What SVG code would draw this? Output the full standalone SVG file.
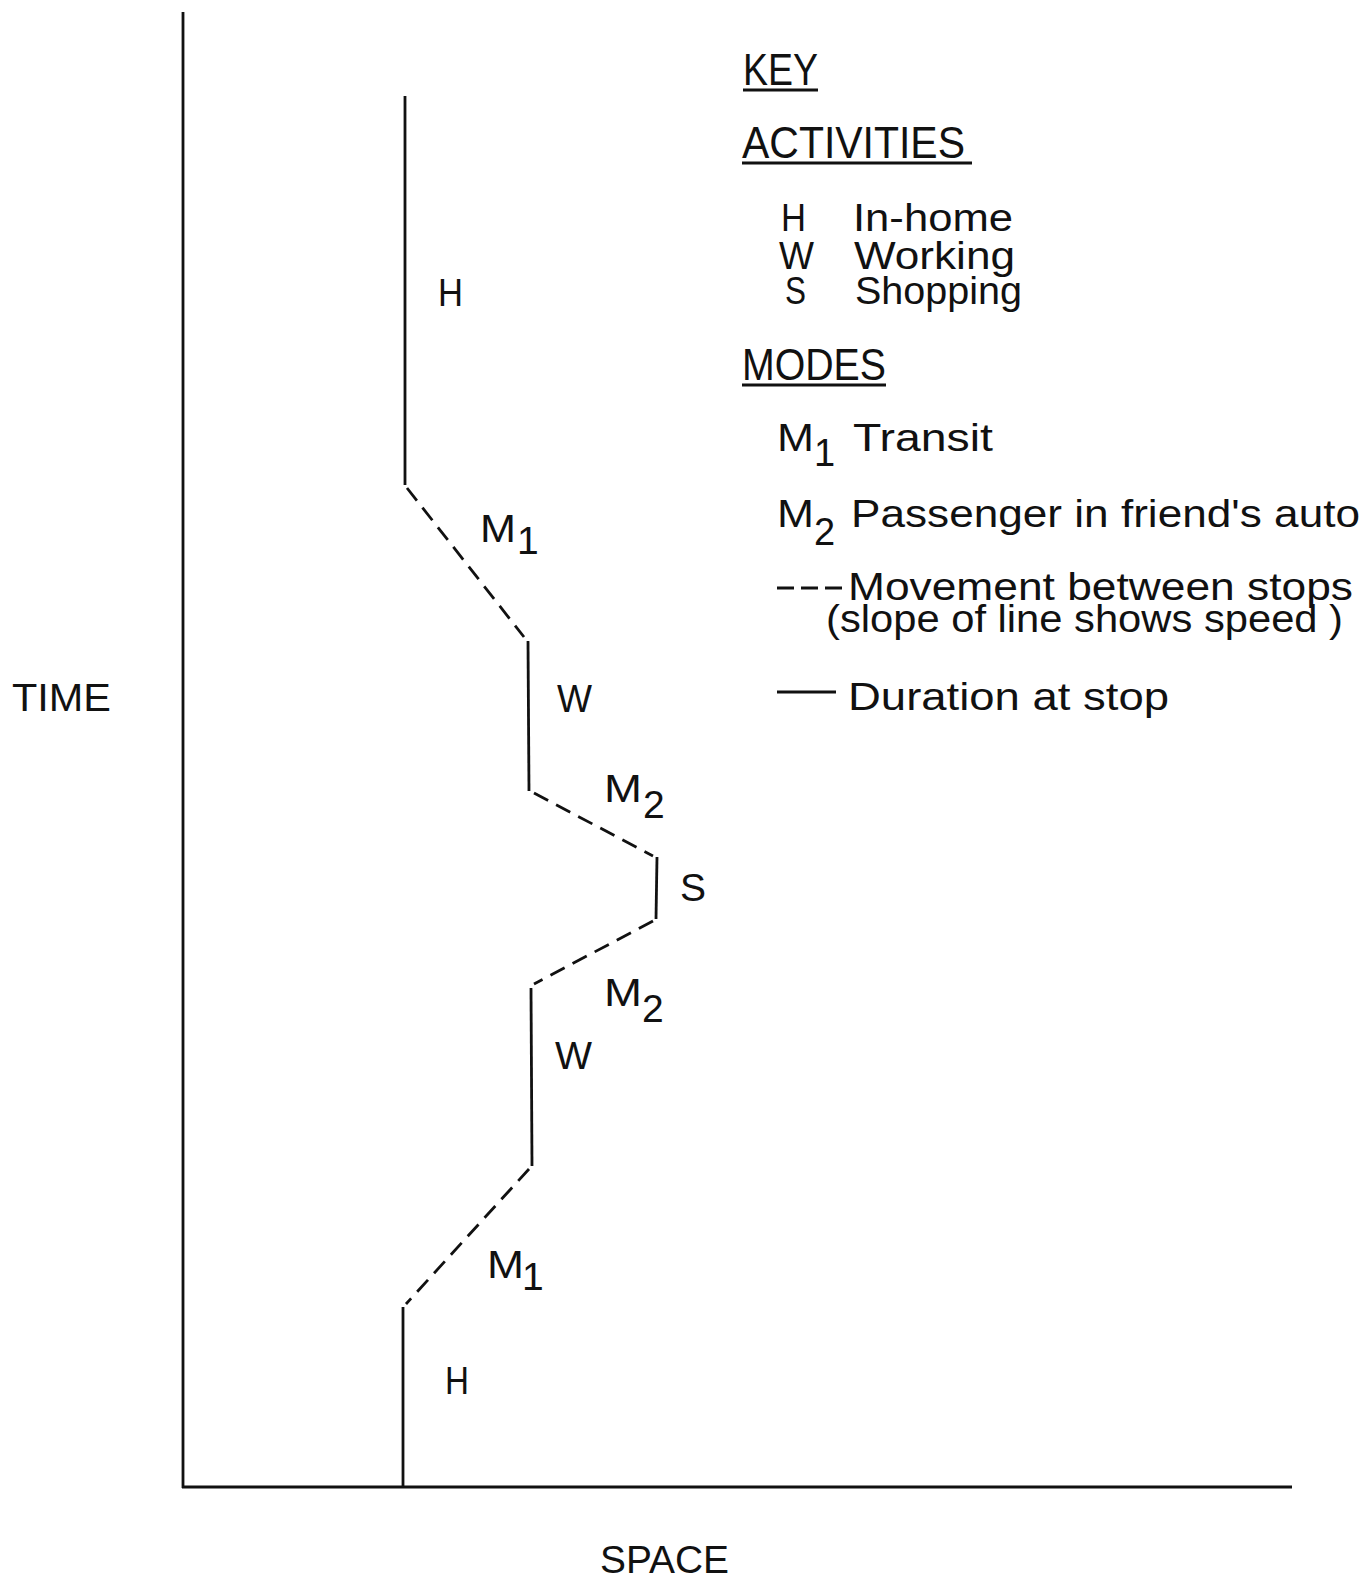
<svg xmlns="http://www.w3.org/2000/svg" width="1366" height="1580" viewBox="0 0 1366 1580">
<style>
text{font-family:"Liberation Sans","DejaVu Sans",sans-serif;fill:#111;}
.lbl{font-size:39px;}
.key{font-size:38px;}
.hd{font-size:44px;}
.ax{stroke:#111;stroke-width:2.8;fill:none;}
.stay{stroke:#111;stroke-width:2.8;fill:none;}
.move{stroke:#111;stroke-width:2.8;fill:none;stroke-dasharray:16 9;}
.ul{stroke:#111;stroke-width:3.2;}
</style>
<rect width="1366" height="1580" fill="#fff"/>
<g id="axes">
<line class="ax" x1="183" y1="12" x2="183" y2="1488"/>
<line class="ax" x1="182" y1="1487" x2="1292" y2="1487"/>
<text id="time-label" class="lbl" x="12" y="711" textLength="99" lengthAdjust="spacingAndGlyphs">TIME</text>
<text id="space-label" class="lbl" x="600" y="1573" textLength="129" lengthAdjust="spacingAndGlyphs">SPACE</text>
</g>
<g id="connectors">
<line class="stay" x1="405" y1="96" x2="405" y2="485"/>
<line class="move" x1="407" y1="488" x2="524" y2="637"/>
<line class="stay" x1="528" y1="641" x2="529" y2="791"/>
<line class="move" x1="534" y1="793" x2="653" y2="856"/>
<line class="stay" x1="657" y1="857" x2="656" y2="919"/>
<line class="move" x1="653" y1="921" x2="534" y2="984"/>
<line class="stay" x1="531" y1="988" x2="532" y2="1166"/>
<line class="move" x1="529" y1="1169" x2="406" y2="1304"/>
<line class="stay" x1="403" y1="1307" x2="403" y2="1487"/>
</g>
<g id="node-h-top"><text class="lbl" x="438" y="306" textLength="25" lengthAdjust="spacingAndGlyphs">H</text></g>
<g id="node-m1-top"><text class="lbl" x="480" y="542" textLength="36" lengthAdjust="spacingAndGlyphs">M</text><text class="lbl" x="517" y="554">1</text></g>
<g id="node-w-top"><text class="lbl" x="557" y="712" textLength="35" lengthAdjust="spacingAndGlyphs">W</text></g>
<g id="node-m2-top"><text class="lbl" x="604" y="802" textLength="38" lengthAdjust="spacingAndGlyphs">M</text><text class="lbl" x="643" y="818">2</text></g>
<g id="node-s"><text class="lbl" x="680" y="901">S</text></g>
<g id="node-m2-bottom"><text class="lbl" x="604" y="1006" textLength="38" lengthAdjust="spacingAndGlyphs">M</text><text class="lbl" x="642" y="1022">2</text></g>
<g id="node-w-bottom"><text class="lbl" x="555" y="1069" textLength="37" lengthAdjust="spacingAndGlyphs">W</text></g>
<g id="node-m1-bottom"><text class="lbl" x="487" y="1278" textLength="37" lengthAdjust="spacingAndGlyphs">M</text><text class="lbl" x="522" y="1290">1</text></g>
<g id="node-h-bottom"><text class="lbl" x="445" y="1394" textLength="24" lengthAdjust="spacingAndGlyphs">H</text></g>
<g id="key">
<text class="hd" x="743" y="85" textLength="75" lengthAdjust="spacingAndGlyphs">KEY</text>
<line class="ul" x1="743" y1="90" x2="818" y2="90"/>
<text class="hd" x="742" y="158" textLength="223" lengthAdjust="spacingAndGlyphs">ACTIVITIES</text>
<line class="ul" x1="742" y1="163" x2="972" y2="163"/>
<text class="key" x="781" y="231" textLength="25" lengthAdjust="spacingAndGlyphs">H</text>
<text class="key" x="853" y="231" textLength="160" lengthAdjust="spacingAndGlyphs">In-home</text>
<text class="key" x="779" y="269" textLength="35" lengthAdjust="spacingAndGlyphs">W</text>
<text class="key" x="854" y="269" textLength="161" lengthAdjust="spacingAndGlyphs">Working</text>
<text class="key" x="785" y="304" textLength="21" lengthAdjust="spacingAndGlyphs">S</text>
<text class="key" x="855" y="304" textLength="167" lengthAdjust="spacingAndGlyphs">Shopping</text>
<text class="hd" x="742" y="380" textLength="144" lengthAdjust="spacingAndGlyphs">MODES</text>
<line class="ul" x1="742" y1="385" x2="886" y2="385"/>
<text class="key" x="777" y="451" textLength="37" lengthAdjust="spacingAndGlyphs">M</text>
<text class="key" x="814" y="466">1</text>
<text class="key" x="853" y="451" textLength="140" lengthAdjust="spacingAndGlyphs">Transit</text>
<text class="key" x="777" y="527" textLength="37" lengthAdjust="spacingAndGlyphs">M</text>
<text class="key" x="814" y="545">2</text>
<text class="key" x="851" y="527" textLength="509" lengthAdjust="spacingAndGlyphs">Passenger in friend's auto</text>
<line class="move" x1="777" y1="588" x2="842" y2="588" style="stroke-dasharray:17 7"/>
<text class="key" x="848" y="600" textLength="505" lengthAdjust="spacingAndGlyphs">Movement between stops</text>
<text class="key" x="826" y="632" textLength="517" lengthAdjust="spacingAndGlyphs">(slope of line shows speed )</text>
<line class="stay" x1="777" y1="692" x2="836" y2="692"/>
<text class="key" x="848" y="710" textLength="321" lengthAdjust="spacingAndGlyphs">Duration at stop</text>
</g>
</svg>
